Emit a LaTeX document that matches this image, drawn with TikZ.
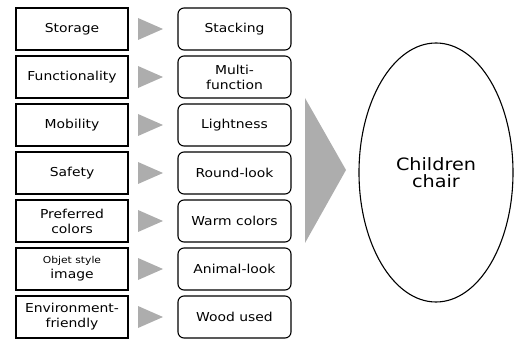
\documentclass[tikz,border=0pt]{standalone}
\usepackage{fontspec}
\setmainfont[FakeStretch=1.13]{DejaVu Sans}
\usetikzlibrary{shapes.geometric}
\begin{document}
\begin{tikzpicture}[x=1pt,y=-1pt,
  lbox/.style={draw=black,line width=1.1pt,minimum width=112pt,minimum height=42pt,align=center,font=\fontsize{12.3}{15}\selectfont,inner sep=1pt},
  rbox/.style={lbox,rounded corners=6pt,minimum width=113pt},
  tri/.style={fill=black!32,draw=none},
  ell/.style={draw=black,line width=1.1pt,ellipse,minimum width=154pt,minimum height=259pt,align=center,font=\fontsize{17}{17}\selectfont}]
\useasboundingbox (0,0) rectangle (514,339);
\foreach \i/\l/\r in {0/Storage/Stacking,1/Functionality/{Multi-\\function},2/Mobility/Lightness,3/Safety/Round-look,4/{Preferred\\colors}/Warm colors,5/{\fontsize{9.5}{10.5}\selectfont Objet style\\image}/Animal-look,6/{Environment-\\friendly}/Wood used}{
  \node[lbox] (L\i) at (72,29+48*\i) {\l};
  \node[rbox] (R\i) at (234.5,29+48*\i) {\r};
  \fill[tri] (138,18+48*\i) -- (163,29+48*\i) -- (138,40+48*\i) -- cycle;
}
\fill[tri] (305,98) -- (346,170) -- (305,243) -- cycle;
\node[ell] (C) at (436,172.5) {Children\\chair};
\end{tikzpicture}
\end{document}
